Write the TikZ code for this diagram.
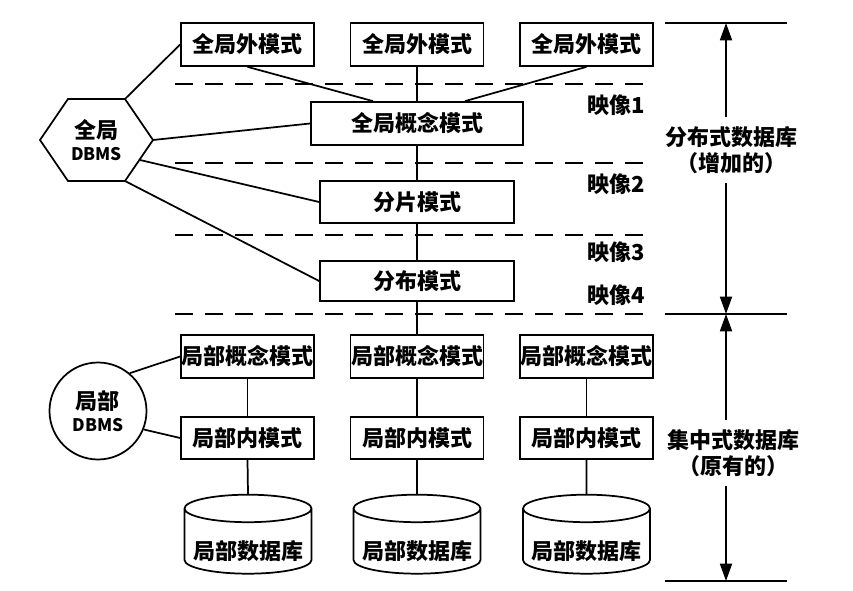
\documentclass[tikz,border=0pt]{standalone}
\usepackage{fontspec}
\setmainfont{Noto Sans CJK SC}
\usetikzlibrary{arrows.meta,shapes.geometric}

\begin{document}
\begin{tikzpicture}[x=0.75pt,y=-0.75pt,
    every node/.style={font=\bfseries\fontsize{16.5}{19}\selectfont},
    schema/.style={draw, line width=1.3pt, minimum width=99.75pt, minimum height=32.25pt, inner sep=0pt},
    link/.style={line width=1.3pt},
    level/.style={line width=1.3pt, dash pattern=on 13.5pt off 9pt},
    dimarrow/.style={line width=1.3pt, -{Triangle[length=13pt,width=9pt]}},
    ldbstore/.style={cylinder, draw, line width=1.3pt, shape border rotate=90, aspect=0.25,
        minimum width=95.25pt, minimum height=59.25pt, inner sep=0pt}]
    \useasboundingbox (0,0) rectangle (853,591);

    %% global external schemas
    \node[schema] (ext1) at (247.5,44.5) {全局外模式};
    \node[schema] (ext2) at (417,44.5)   {全局外模式};
    \node[schema] (ext3) at (586.5,44.5) {全局外模式};

    %% global schemas
    \node[schema, minimum width=159pt] (gcon) at (417,123.5) {全局概念模式};
    \node[schema, minimum width=145.5pt, minimum height=31.5pt] (frag) at (417,202) {分片模式};
    \node[schema, minimum width=145.5pt, minimum height=30pt] (dist) at (417,281) {分布模式};

    %% local schemas
    \node[schema] (lcon1) at (247.5,356.5) {局部概念模式};
    \node[schema] (lcon2) at (417,356.5)   {局部概念模式};
    \node[schema] (lcon3) at (586.5,356.5) {局部概念模式};
    \node[schema, minimum height=31.5pt] (lint1) at (247.5,438) {局部内模式};
    \node[schema, minimum height=31.5pt] (lint2) at (417,438)   {局部内模式};
    \node[schema, minimum height=31.5pt] (lint3) at (586.5,438) {局部内模式};
    \node[ldbstore] (ldb1) at (248,541.5) {\raisebox{-7pt}[\height][\depth]{局部数据库}};
    \node[ldbstore] (ldb2) at (417,541.5) {\raisebox{-7pt}[\height][\depth]{局部数据库}};
    \node[ldbstore] (ldb3) at (586.5,541.5) {\raisebox{-7pt}[\height][\depth]{局部数据库}};

    % mapping levels
    \draw[level] (175,84)  -- (655,84);
    \draw[level] (175,163) -- (655,163);
    \draw[level] (175,235) -- (655,235);
    \draw[level] (175,314) -- (655,314);
    \node[anchor=west] (map1) at (583,105) {映像1};
    \node[anchor=west] (map2) at (583,184) {映像2};
    \node[anchor=west] (map3) at (583,252) {映像3};
    \node[anchor=west] (map4) at (583,295) {映像4};

    % global DBMS
    \coordinate (hexL)  at (40,140);
    \coordinate (hexTL) at (68,99);
    \coordinate (hexTR) at (125,99);
    \coordinate (hexR)  at (153,140);
    \coordinate (hexBR) at (125,181);
    \coordinate (hexBL) at (68,181);
    \coordinate (hexE)  at (140,160);
    \draw[link] (hexL) -- (hexTL) -- (hexTR) -- (hexR) -- (hexBR) -- (hexBL) -- cycle;
    \node[align=center] (gdbms) at (96.5,140) {全局\\[-2pt]{\fontsize{13}{14}\selectfont DBMS}};

    % local DBMS
    \node[circle, draw, line width=1.3pt, minimum size=72.75pt, inner sep=0pt, align=center] (ldbms) at (98,411)
        {局部\\[-2pt]{\fontsize{13}{14}\selectfont DBMS}};

    %% links
    \draw[link] (hexTR) -- (ext1.west);
    \draw[link] (hexR)  -- (gcon.west);
    \draw[link] (hexE)  -- (frag.west);
    \draw[link] (hexBR) -- (dist.west);
    \draw[link] (ext1.south) -- ([xshift=-33pt]gcon.north);
    \draw[link] (ext2.south) -- (gcon.north);
    \draw[link] (ext3.south) -- ([xshift=36pt]gcon.north);
    \draw[link] (gcon.south) -- (frag.north);
    \draw[link] (frag.south) -- (dist.north);
    \draw[link] (dist.south) -- (lcon2.north);
    \draw[link] (ldbms.50)  -- (lcon1.west);
    \draw[link] (ldbms.-22) -- (lint1.west);
    \draw[link] (lcon1.south) -- (lint1.north);
    \draw[link] (lcon2.south) -- (lint2.north);
    \draw[link] (lcon3.south) -- (lint3.north);
    \draw[link] (lint1.south) -- (ldb1.north);
    \draw[link] (lint2.south) -- (ldb2.north);
    \draw[link] (lint3.south) -- (ldb3.north);

    %% dimension on the right
    \coordinate (rtop) at (726,23);
    \coordinate (rmid) at (726,314);
    \coordinate (rbot) at (726,581);
    \draw[link] (665,23)  -- (787,23);
    \draw[link] (665,314) -- (787,314);
    \draw[link] (665,581) -- (787,581);
    \node[align=center, inner ysep=7pt] (ddb) at (731,150) {分布式数据库\\（增加的）};
    \node[align=center, inner ysep=7pt] (cdb) at (733,453) {集中式数据库\\（原有的）};
    \draw[dimarrow] (ddb.north -| rtop) -- (rtop);
    \draw[dimarrow] (ddb.south -| rtop) -- (rmid);
    \draw[dimarrow] (cdb.north -| rtop) -- (rmid);
    \draw[dimarrow] (cdb.south -| rtop) -- (rbot);
\end{tikzpicture}
\end{document}
